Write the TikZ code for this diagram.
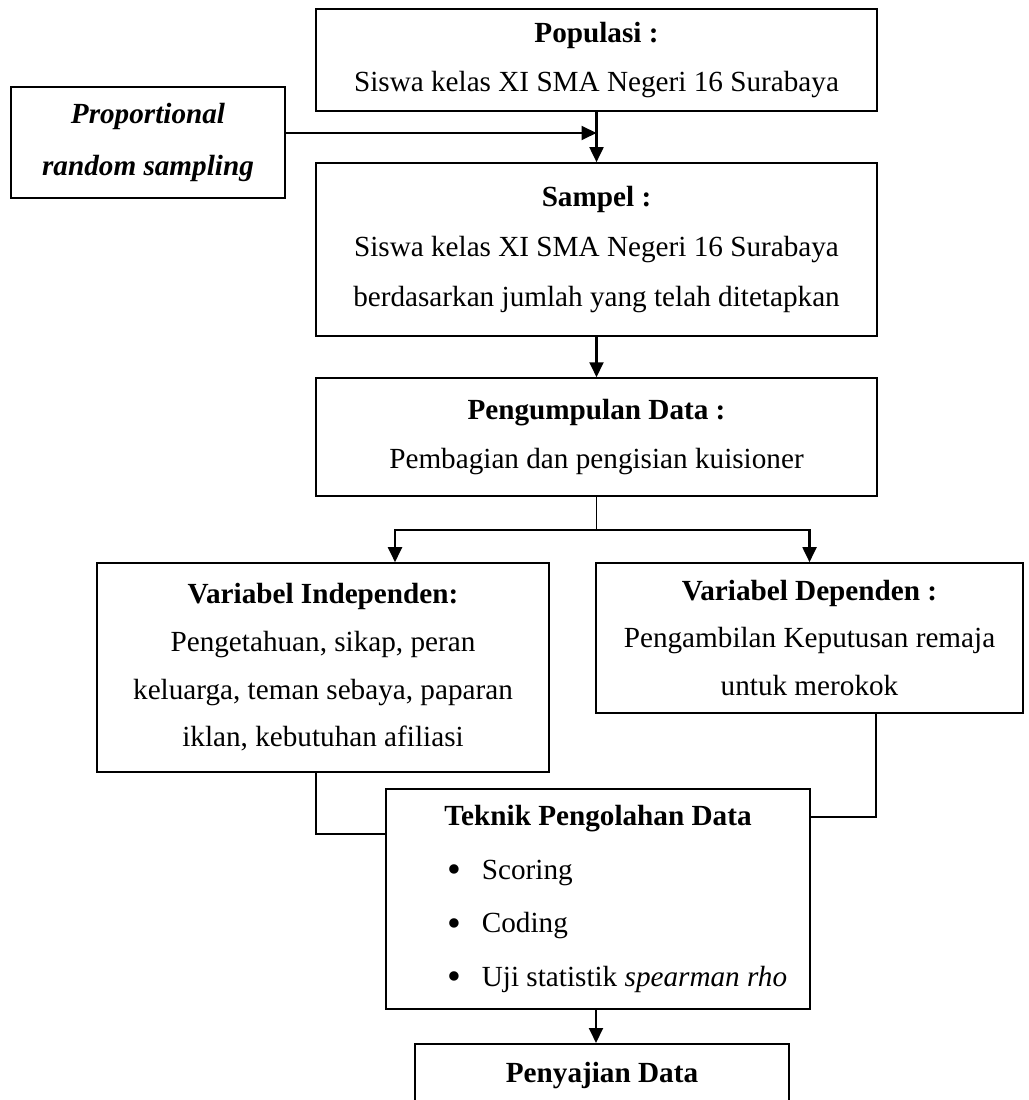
\documentclass[tikz,border=0pt]{standalone}
\usepackage{fontspec}
\setmainfont{Liberation Serif}
\usetikzlibrary{arrows.meta}

\newcommand{\blt}{\makebox[13pt][l]{\raisebox{-1.2pt}{\scalebox{1.35}{\textbullet}}}}

\begin{document}
\begin{tikzpicture}[x=0.3733pt,y=-0.3733pt,every path/.style={>={Triangle[length=5.6pt,width=5.2pt]}},
  box/.style={draw,rectangle,line width=0.6pt,inner sep=0pt,align=center,font=\fontsize{10.9}{18.5}\selectfont},
  conn/.style={line width=0.8pt},
  thin conn/.style={line width=0.6pt}]
\useasboundingbox (0,0) rectangle (1028,1100);
\node[box,minimum width=209.4pt,minimum height=38.1pt] (pop) at (596.5,60)  {\textbf{Populasi :}\\ Siswa kelas XI SMA Negeri 16 Surabaya};
\node[box,minimum width=102.3pt,minimum height=41.4pt,font=\fontsize{10.9}{19.5}\selectfont] (prs) at (148,142.5) {\textbf{\textit{Proportional}}\\ \textbf{\textit{random sampling}}};
\node[box,minimum width=209.4pt,minimum height=64.6pt] (smp) at (596.5,249.5) {\textbf{Sampel :}\\ Siswa kelas XI SMA Negeri 16 Surabaya\\ berdasarkan jumlah yang telah ditetapkan};
\node[box,minimum width=209.4pt,minimum height=44pt] (kum) at (596.5,437) {\textbf{Pengumpulan Data :}\\ Pembagian dan pengisian kuisioner};
\node[box,minimum width=168.7pt,minimum height=78pt,font=\fontsize{10.9}{17.8}\selectfont] (ind) at (323,667.5) {\textbf{Variabel Independen:}\\ Pengetahuan, sikap, peran\\ keluarga, teman sebaya, paparan\\ iklan, kebutuhan afiliasi};
\node[box,minimum width=159.4pt,minimum height=56pt,font=\fontsize{10.9}{17.8}\selectfont] (dep) at (809.5,638) {\textbf{Variabel Dependen :}\\ Pengambilan Keputusan remaja\\ untuk merokok};
\node[box,minimum width=158.3pt,minimum height=82.1pt,font=\fontsize{10.9}{20}\selectfont] (tek) at (598,899) {\textbf{Teknik Pengolahan Data}\\
  \makebox[112.7pt][l]{\blt Scoring}\\
  \makebox[112.7pt][l]{\blt Coding}\\
  \makebox[112.7pt][l]{\blt Uji statistik \textit{spearman rho}}};
\node[box,anchor=north,minimum width=139.6pt,text height=14.6pt,text depth=30pt] (saj) at (602,1043) {\textbf{Penyajian Data}};
% sampling masuk ke garis populasi-sampel
\coordinate (mrg) at (pop.south |- 0,133);
\draw[conn,->] (prs.east |- mrg) -- (mrg);
\draw[conn,->] (pop) -- (smp);
\draw[conn,->] (smp) -- (kum);
% percabangan ke variabel
\coordinate (jn) at (kum.south |- 0,530);
\draw[thin conn] (kum) -- (jn);
\draw[conn,<->] (ind.north -| 395,0) |- (jn) -| (dep.north);
\draw[thin conn] (ind.south -| 316,0) |- (tek.west |- 0,834);
\draw[thin conn] (dep.south -| 876,0) |- (tek.east |- 0,817);
\draw[conn,->] (tek.south -| 596,0) -- (saj.north -| 596,0);
\end{tikzpicture}
\end{document}
